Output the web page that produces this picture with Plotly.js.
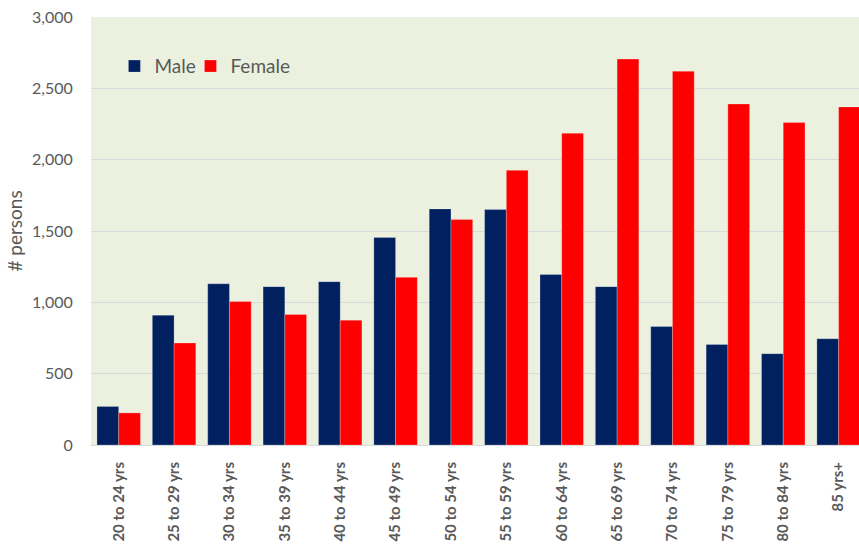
<!DOCTYPE html>
<html>
<head>
<meta charset="utf-8">
<script src="https://cdn.plot.ly/plotly-3.0.1.min.js"></script>
<style>html,body{margin:0;padding:0;background:#fff;}#chart{width:859px;height:546px;}</style>
</head>
<body>
<div id="chart"></div>
<script>
const categories = ["20 to 24 yrs","25 to 29 yrs","30 to 34 yrs","35 to 39 yrs","40 to 44 yrs","45 to 49 yrs","50 to 54 yrs","55 to 59 yrs","60 to 64 yrs","65 to 69 yrs","70 to 74 yrs","75 to 79 yrs","80 to 84 yrs","85 yrs+"];
const male   = [270, 910, 1130, 1110, 1145, 1455, 1655, 1650, 1195, 1110, 830, 705, 640, 745];
const female = [225, 715, 1005, 915, 875, 1175, 1580, 1925, 2185, 2705, 2620, 2390, 2260, 2370];
const yTicks = [0, 500, 1000, 1500, 2000, 2500, 3000];
const yTickLabels = ["0", "500", "1,000", "1,500", "2,000", "2,500", "3,000"];

const FONT = "Lato, 'Liberation Sans', sans-serif";
const GREY = "#595959";

const traces = [
  {type:"bar", name:"Male", x:categories, y:male, legend:"legend",
   marker:{color:"#002060", line:{color:"rgba(255,255,255,0.3)", width:0.8}}},
  {type:"bar", name:"Female", x:categories, y:female, legend:"legend2",
   marker:{color:"#FF0000", line:{color:"rgba(255,255,255,0.3)", width:0.8}}}
];

const legendBase = {orientation:"h", xanchor:"left", y:0.885, yanchor:"middle",
  bgcolor:"rgba(0,0,0,0)", font:{family:FONT, size:19, color:GREY}, itemclick:false};

const layout = {
  width:859, height:546,
  margin:{l:91, r:0, t:17, b:101, pad:0},
  paper_bgcolor:"#ffffff",
  plot_bgcolor:"#EBF1DE",
  barmode:"group", bargap:0.215, bargroupgap:0,
  font:{family:FONT, color:GREY},
  showlegend:true,
  legend:Object.assign({}, legendBase, {x:0.0305}),
  legend2:Object.assign({}, legendBase, {x:0.1295}),
  xaxis:{type:"category", range:[-0.5, 13.368], tickangle:-90,
         tickfont:{family:FONT, size:15, color:GREY, weight:"bold"},
         showgrid:false, showline:true, linecolor:"#D9D9D9", linewidth:1,
         ticks:"outside", ticklen:10, tickcolor:"rgba(0,0,0,0)", fixedrange:true},
  yaxis:{range:[0,3000], tickvals:yTicks, ticktext:yTickLabels,
         tickfont:{family:FONT, size:16, color:GREY},
         showgrid:true, gridcolor:"#D9D9D9", gridwidth:1, zeroline:false,
         showline:false, ticks:"outside", ticklen:14, tickcolor:"rgba(0,0,0,0)",
         title:{text:"# persons", font:{family:FONT, size:19, color:GREY}, standoff:4},
         fixedrange:true}
};

Plotly.newPlot("chart", traces, layout, {staticPlot:true, displayModeBar:false});
</script>
</body>
</html>
